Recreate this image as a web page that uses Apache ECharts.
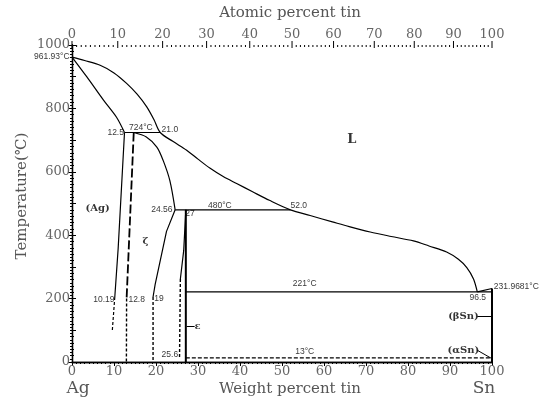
<!DOCTYPE html>
<html><head><meta charset="utf-8">
<script src="https://cdn.jsdelivr.net/npm/echarts@6/dist/echarts.min.js"></script>
<style>html,body{margin:0;padding:0;background:#fff}#c{width:542px;height:402px}</style>
</head><body><div id="c"></div>
<script>
// ---- data (wt% Sn, temperature °C) ----
const atomicTicks = [0,10,20,30,40,50,60,70,80,90,100];
const liquidus = [[0,961.93],[3,951],[6.7,936],[10,912],[13,879],[15.5,845],[17.8,805],[19.5,765],[21.0,724],[24,696],[27.3,668],[30,640],[32.9,611],[36,585],[39.2,563],[43,537],[47,510],[52.0,480],[56.7,462],[62,442],[66,427],[71,410],[76,396],[81.3,382],[85,366],[89.2,347],[92,324],[94,298],[95.6,262],[96.5,221]];
const liquidusEnd = [[96.5,221],[100,231.97]];
const solidusAg = [[0,961.93],[3.5,900],[7.5,826],[10.6,772],[12.5,724]];
const solvusAg = [[12.5,724],[11.0,360],[10.19,205]];
const solvusAgDash = [[10.19,205],[9.6,100]];
const zetaLeft = [[14.7,724],[13.0,200]];
const zetaLeftDash = [[13.0,200],[12.95,0]];
const zetaTop = [[14.7,724],[17.7,710],[20.2,678],[21.7,636],[23.3,572],[24.56,480]];
const zetaRight = [[24.56,480],[22.5,412],[19.8,245],[19.3,205]];
const zetaRightDash = [[19.3,205],[19.3,0]];
const epsLeft = [[27.1,480],[26.6,352],[25.8,262]];
const epsLeftDash = [[25.8,262],[25.6,13]];
const epsRight = [[27.1,480],[27.1,0]];
const iso724 = [[12.5,724],[21.0,724]];
const iso480 = [[24.56,480],[52.0,480]];
const iso221 = [[27.1,221],[100,221]];
const iso13 = [[27.1,13],[100,13]];
const snLine = [[100,0],[100,231.97]];
// annotation texts: [wt, T, text]
const numLabels = [[-4.8,962,'961.93°C'],[10.4,723,'12.5'],[16.4,740,'724°C'],[23.3,734,'21.0'],[21.4,481,'24.56'],[28.1,468,'27'],[35.2,493,'480°C'],[54.0,492,'52.0'],[7.6,197,'10.19'],[15.4,197,'12.8'],[20.7,200,'19'],[23.3,24,'25.6'],[55.4,248,'221°C'],[55.4,34,'13°C'],[96.6,203,'96.5'],[105.8,239,'231.9681°C']];
const phaseLabels = [[6.1,486,'(Ag)'],[17.5,379,'ζ'],[29.9,113,'ε'],[93.2,144,'(βSn)'],[93.2,37,'(αSn)']];
const liquidLabel = [[66.6,700,'L']];
const arrows = [[[29.2,113],[27.3,113]],[[96.5,144],[99.8,144]],[[96.5,37],[99.8,12]]];

function atToWt(a){ return 100*a*118.71/(a*118.71+(100-a)*107.87); }

const serif = '"DejaVu Serif", serif';
function ln(data, width, dash, smooth){
  return {type:'line', data:data, showSymbol:false, symbol:'none', silent:true, animation:false, z:3,
    smooth: smooth||false,
    lineStyle:{color:'#000', width:width||1.1, type: dash||'solid'}};
}
function lbl(data, font, size, weight){
  return {type:'scatter', data:data, symbolSize:1, itemStyle:{color:'rgba(0,0,0,0)'}, silent:true, clip:false, animation:false, z:5,
    label:{show:true, position:'inside', formatter:p=>p.data[2], color:'#000', fontFamily:font, fontSize:size, fontWeight:weight||'normal'}};
}

const chart = echarts.init(document.getElementById('c'), null, {renderer:'canvas'});
chart.setOption({
  backgroundColor:'#fff',
  animation:false,
  grid:{left:72, right:50, top:45, bottom:40},
  xAxis:[
    {type:'value', min:0, max:100, interval:10, position:'bottom',
     axisLine:{lineStyle:{color:'#000', width:1.3}}, axisTick:{length:4, lineStyle:{color:'#000'}},
     minorTick:{show:true, splitNumber:10, length:2, lineStyle:{color:'#000'}},
     splitLine:{show:false}, axisLabel:{color:'#666', fontFamily:serif, fontSize:13, margin:3}},
    {type:'value', min:0, max:100, position:'top', axisLine:{show:true, lineStyle:{color:'#000', width:1.3}},
     axisTick:{show:false}, axisLabel:{show:false}, splitLine:{show:false}}
  ],
  yAxis:[
    {type:'value', min:0, max:1000, interval:200, position:'left',
     axisLine:{show:true, lineStyle:{color:'#000', width:1.3}}, axisTick:{show:true, length:4, lineStyle:{color:'#000'}},
     minorTick:{show:true, splitNumber:20, length:2, lineStyle:{color:'#000'}},
     splitLine:{show:false}, axisLabel:{color:'#666', fontFamily:serif, fontSize:13, margin:2, formatter:v=>String(v)}},
    {type:'value', min:0, max:1000, interval:100, position:'right',
     axisLine:{show:true, lineStyle:{color:'#000', width:1.3}}, axisTick:{show:true, length:4, lineStyle:{color:'#000'}},
     minorTick:{show:true, splitNumber:5, length:2, lineStyle:{color:'#000'}},
     splitLine:{show:false}, axisLabel:{show:false}}
  ],
  series:[
    ln(liquidus,1.2,null,0.3), ln(liquidusEnd,1.2), ln(solidusAg,1.2,null,0.3), ln(solvusAg,1.2), ln(solvusAgDash,1.2,[3,2]),
    ln(zetaLeft,1.8,[9,3]), ln(zetaLeftDash,1.4,[3,2]),
    ln(zetaTop,1.2,null,0.3), ln(zetaRight,1.2), ln(zetaRightDash,1.4,[3,2]),
    ln(epsLeft,1.2), ln(epsLeftDash,1.4,[3,2]), ln(epsRight,2),
    ln(iso724,1.2), ln(iso480,1.2), ln(iso221,1.2), ln(iso13,1.4,[4,2]), ln(snLine,2),
    {type:'custom', coordinateSystem:'cartesian2d', clip:false, silent:true, z:6,
     data: atomicTicks.map(a=>[a,1000]),
     renderItem:function(params, api){
       const a = api.value(0);
       const p = api.coord([atToWt(a),1000]);
       const ch = [
         {type:'line', shape:{x1:p[0],y1:p[1]-4,x2:p[0],y2:p[1]+3}, style:{stroke:'#000',lineWidth:1}},
         {type:'text', style:{text:String(a), x:p[0], y:p[1]-4, textAlign:'center', textVerticalAlign:'bottom', align:'center', verticalAlign:'bottom', font:'13px "DejaVu Serif"', fill:'#666'}}
       ];
       if (a<100){ for(let k=1;k<10;k++){ const q=api.coord([atToWt(a+k),1000]); ch.push({type:'line', shape:{x1:q[0],y1:q[1],x2:q[0],y2:q[1]+2}, style:{stroke:'#000',lineWidth:1}}); } }
       return {type:'group', children:ch};
     }},
    lbl(numLabels,'"Liberation Sans", sans-serif',8.5),
    lbl(phaseLabels,serif,10,'bold'),
    lbl(liquidLabel,serif,13,'bold'),
    {type:'line', data:[], silent:true, markLine:{silent:true, symbol:['none','arrow'], symbolSize:[0,6], animation:false,
      lineStyle:{color:'#000', type:'solid', width:1}, label:{show:false},
      data: arrows.map(a=>[{coord:a[0]},{coord:a[1]}])}}
  ],
  graphic:[
    {type:'text', style:{text:'Atomic percent tin', x:290, y:13, textAlign:'center', textVerticalAlign:'middle', align:'center', verticalAlign:'middle', font:'15px "DejaVu Serif"', fill:'#555'}},
    {type:'text', style:{text:'Weight percent tin', x:290, y:389, textAlign:'center', textVerticalAlign:'middle', align:'center', verticalAlign:'middle', font:'15px "DejaVu Serif"', fill:'#555'}},
    {type:'text', style:{text:'Ag', x:78, y:389, textAlign:'center', textVerticalAlign:'middle', align:'center', verticalAlign:'middle', font:'17px "DejaVu Serif"', fill:'#555'}},
    {type:'text', style:{text:'Sn', x:484, y:389, textAlign:'center', textVerticalAlign:'middle', align:'center', verticalAlign:'middle', font:'17px "DejaVu Serif"', fill:'#555'}},
    {type:'text', x:22, y:196, rotation:Math.PI/2, style:{text:'Temperature(℃)', x:0, y:0, textAlign:'center', textVerticalAlign:'middle', align:'center', verticalAlign:'middle', font:'15px "DejaVu Serif"', fill:'#555'}}
  ]
});
</script></body></html>
